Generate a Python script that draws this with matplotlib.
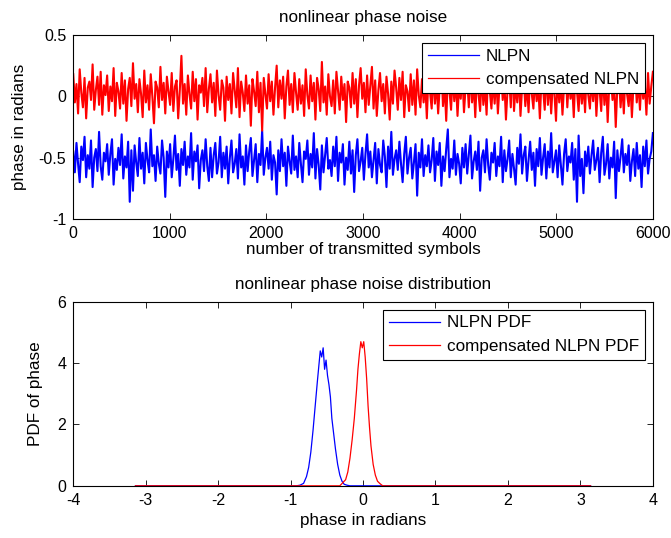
import numpy as np
import matplotlib
matplotlib.use("Agg")
import matplotlib.pyplot as plt

# phase samples (subsampled)
nlpn = [
    -0.45, -0.62, -0.38, -0.55, -0.70, -0.41, -0.52, -0.33, -0.66, -0.48, -0.59, -0.36, -0.74, -0.50, -0.43, -0.61, -0.29, -0.57, -0.68, -0.46,
    -0.53, -0.39, -0.64, -0.47, -0.35, -0.72, -0.51, -0.60, -0.42, -0.56, -0.31, -0.67, -0.49, -0.58, -0.37, -0.86, -0.44, -0.77, -0.40, -0.54,
    -0.65, -0.34, -0.59, -0.46, -0.71, -0.38, -0.52, -0.62, -0.27, -0.57, -0.48, -0.69, -0.41, -0.55, -0.63, -0.36, -0.50, -0.82, -0.45, -0.58,
    -0.39, -0.66, -0.51, -0.32, -0.60, -0.47, -0.73, -0.43, -0.56, -0.37, -0.64, -0.49, -0.58, -0.30, -0.68, -0.45, -0.53, -0.40, -0.75, -0.52,
    -0.44, -0.61, -0.35, -0.57, -0.69, -0.42, -0.66, -0.48, -0.38, -0.63, -0.54, -0.33, -0.66, -0.46, -0.59, -0.41, -0.71, -0.50, -0.36, -0.62,
    -0.55, -0.43, -0.67, -0.31, -0.58, -0.49, -0.72, -0.40, -0.61, -0.45, -0.34, -0.65, -0.52, -0.39, -0.70, -0.47, -0.56, -0.28, -0.64, -0.50,
    -0.42, -0.59, -0.37, -0.68, -0.48, -0.54, -0.80, -0.44, -0.61, -0.35, -0.57, -0.46, -0.73, -0.41, -0.53, -0.63, -0.32, -0.60, -0.49, -0.66,
    -0.38, -0.55, -0.70, -0.45, -0.51, -0.36, -0.64, -0.47, -0.58, -0.30, -0.67, -0.43, -0.56, -0.76, -0.40, -0.62, -0.48, -0.34, -0.59, -0.52,
    -0.65, -0.41, -0.57, -0.33, -0.69, -0.46, -0.54, -0.39, -0.72, -0.50, -0.60, -0.37, -0.63, -0.44, -0.78, -0.48, -0.35, -0.61, -0.53, -0.42,
    -0.68, -0.47, -0.31, -0.58, -0.45, -0.66, -0.52, -0.38, -0.71, -0.43, -0.56, -0.62, -0.36, -0.49, -0.74, -0.41, -0.59, -0.29, -0.64, -0.51,
    -0.44, -0.60, -0.37, -0.55, -0.70, -0.47, -0.33, -0.63, -0.50, -0.42, -0.67, -0.54, -0.39, -0.81, -0.46, -0.58, -0.35, -0.65, -0.48, -0.57,
    -0.40, -0.62, -0.52, -0.34, -0.69, -0.45, -0.56, -0.38, -0.73, -0.49, -0.61, -0.43, -0.27, -0.66, -0.51, -0.59, -0.36, -0.64, -0.47, -0.55,
    -0.71, -0.42, -0.58, -0.39, -0.63, -0.48, -0.32, -0.67, -0.53, -0.45, -0.60, -0.37, -0.77, -0.50, -0.44, -0.62, -0.35, -0.56, -0.68, -0.46,
    -0.54, -0.38, -0.65, -0.49, -0.57, -0.33, -0.70, -0.44, -0.61, -0.51, -0.36, -0.66, -0.47, -0.59, -0.72, -0.42, -0.55, -0.31, -0.63, -0.48,
    -0.41, -0.69, -0.52, -0.37, -0.60, -0.46, -0.73, -0.43, -0.57, -0.34, -0.64, -0.50, -0.39, -0.67, -0.45, -0.58, -0.30, -0.62, -0.53, -0.44,
    -0.66, -0.40, -0.56, -0.72, -0.47, -0.35, -0.61, -0.49, -0.54, -0.38, -0.68, -0.43, -0.86, -0.32, -0.65, -0.51, -0.79, -0.45, -0.57, -0.41,
    -0.63, -0.48, -0.36, -0.60, -0.52, -0.42, -0.70, -0.46, -0.33, -0.64, -0.55, -0.39, -0.67, -0.50, -0.58, -0.37, -0.83, -0.44, -0.61, -0.49,
    -0.35, -0.62, -0.47, -0.56, -0.40, -0.69, -0.53, -0.43, -0.65, -0.38, -0.59, -0.48, -0.74, -0.41, -0.57, -0.36, -0.63, -0.51, -0.45, -0.30,
]
comp_nlpn = [
    0.18, -0.05, 0.10, -0.14, 0.22, 0.03, -0.09, 0.15, -0.18, 0.07, 0.12, -0.03, 0.26, -0.11, 0.05, 0.16, -0.07, 0.20, -0.15, 0.09,
    0.01, 0.17, -0.12, 0.08, -0.04, 0.23, -0.16, 0.11, 0.04, -0.10, 0.19, -0.06, 0.13, -0.20, 0.06, 0.15, -0.08, 0.27, -0.02, 0.10,
    -0.13, 0.14, 0.02, -0.17, 0.21, -0.05, 0.09, -0.11, 0.18, 0.00, -0.22, 0.12, 0.07, -0.09, 0.24, -0.03, 0.11, -0.14, 0.16, 0.04,
    -0.07, 0.19, -0.12, 0.08, 0.13, -0.18, 0.05, 0.33, -0.06, 0.10, -0.15, 0.17, 0.02, -0.10, 0.20, -0.04, 0.14, -0.19, 0.09, 0.03,
    0.15, -0.08, 0.23, -0.13, 0.06, 0.18, -0.05, 0.11, -0.16, 0.21, 0.01, -0.11, 0.13, 0.07, -0.20, 0.16, -0.03, 0.10, -0.14, 0.19,
    0.05, -0.09, 0.23, -0.17, 0.12, 0.03, -0.12, 0.17, -0.06, 0.09, -0.24, 0.14, 0.04, -0.08, 0.20, -0.13, 0.11, -0.28, 0.15, 0.02,
    -0.10, 0.18, -0.04, 0.12, -0.15, 0.07, 0.25, -0.09, 0.13, -0.02, 0.16, -0.18, 0.08, 0.21, -0.07, 0.10, -0.13, 0.19, 0.03, -0.11,
    0.14, -0.06, 0.09, -0.16, 0.22, 0.01, -0.10, 0.17, -0.04, 0.11, -0.19, 0.15, 0.06, -0.12, 0.28, -0.05, 0.08, -0.15, 0.18, 0.00,
    -0.08, 0.13, -0.14, 0.20, 0.04, -0.11, 0.16, -0.03, 0.10, -0.21, 0.12, 0.07, -0.09, 0.19, -0.06, 0.14, -0.17, 0.09, 0.23, -0.02,
    0.11, -0.13, 0.17, -0.07, 0.08, 0.24, -0.10, 0.13, -0.16, 0.05, 0.19, -0.04, 0.10, -0.14, 0.16, 0.02, -0.19, 0.12, -0.06, 0.21,
    0.07, -0.11, 0.15, -0.03, 0.20, -0.17, 0.09, 0.04, -0.12, 0.18, -0.07, 0.13, -0.15, 0.22, 0.01, -0.09, 0.14, -0.05, 0.11, -0.18,
    0.16, 0.03, -0.10, 0.19, -0.06, 0.12, -0.14, 0.08, 0.25, -0.08, 0.10, -0.20, 0.15, 0.05, -0.11, 0.17, -0.04, 0.13, -0.16, 0.09,
    -0.02, 0.18, -0.13, 0.07, 0.14, -0.09, 0.21, -0.05, 0.11, -0.17, 0.16, 0.02, -0.12, 0.19, -0.07, 0.09, -0.15, 0.23, 0.04, -0.10,
    0.13, -0.06, 0.17, -0.14, 0.08, 0.20, -0.03, 0.12, -0.19, 0.06, 0.15, -0.09, 0.29, -0.12, 0.10, -0.05, 0.18, -0.16, 0.07, 0.14,
    -0.08, 0.11, -0.13, 0.19, 0.02, -0.10, 0.16, -0.04, 0.09, -0.18, 0.13, 0.06, -0.11, 0.21, -0.07, 0.15, -0.14, 0.10, 0.03, -0.20,
    0.17, -0.05, 0.12, -0.15, 0.08, 0.22, -0.09, 0.14, -0.02, 0.10, -0.17, 0.18, 0.04, -0.12, 0.15, -0.06, 0.11, -0.13, 0.20, 0.01,
    -0.10, 0.14, -0.04, 0.17, -0.16, 0.09, 0.05, -0.12, 0.19, -0.07, 0.13, -0.21, 0.10, 0.16, -0.03, 0.12, -0.25, 0.08, 0.15, -0.09,
    0.11, -0.14, 0.18, 0.02, -0.08, 0.13, -0.17, 0.09, 0.21, -0.05, 0.12, -0.11, 0.16, -0.02, 0.10, -0.15, 0.19, -0.06, 0.08, 0.20,
]
n_symbols = 6000

# PDF estimates
blue_x = [-3.14, -0.92, -0.87, -0.82, -0.78, -0.75, -0.72, -0.69, -0.66, -0.63,
          -0.61, -0.59, -0.57, -0.55, -0.53, -0.51, -0.49, -0.47, -0.45, -0.43,
          -0.41, -0.38, -0.35, -0.32, -0.29, -0.26, -0.22, -0.18, 3.14]
blue_pdf = [0, 0, 0.02, 0.08, 0.3, 0.6, 1.1, 1.8, 2.6, 3.4,
            3.9, 4.4, 4.2, 4.5, 3.8, 4.1, 3.6, 3.3, 2.9, 2.2,
            1.8, 1.2, 0.7, 0.35, 0.15, 0.05, 0.02, 0, 0]
red_x = [-3.14, -0.32, -0.28, -0.24, -0.21, -0.18, -0.15, -0.12, -0.09, -0.07,
         -0.05, -0.03, -0.01, 0.01, 0.03, 0.05, 0.07, 0.09, 0.11, 0.14,
         0.17, 0.20, 0.23, 0.26, 0.28, 3.14]
red_pdf = [0, 0, 0.1, 0.2, 0.45, 0.9, 1.5, 2.2, 3.1, 3.8,
           4.3, 4.7, 4.5, 4.7, 4.2, 3.5, 2.6, 1.9, 1.3, 0.7,
           0.35, 0.15, 0.08, 0.02, 0, 0]

plt.rcParams["font.family"] = ["Liberation Sans", "DejaVu Sans"]
plt.rcParams["font.size"] = 12.3
plt.rcParams["axes.unicode_minus"] = False
plt.rcParams["xtick.labelsize"] = 11.5
plt.rcParams["ytick.labelsize"] = 11.5

fig = plt.figure(figsize=(6.71, 5.38), dpi=100)
ax1 = fig.add_axes([0.109, 0.593, 0.864, 0.342])
ax2 = fig.add_axes([0.109, 0.097, 0.864, 0.342])

x = np.linspace(1, n_symbols, len(nlpn))
ax1.plot(x, nlpn, color="blue", lw=1.5, label="NLPN")
ax1.plot(x, comp_nlpn, color="red", lw=1.5, label="compensated NLPN")
ax1.set_xlim(0, 6000)
ax1.set_ylim(-1, 0.5)
ax1.set_yticks([-1, -0.5, 0, 0.5])
ax1.set_yticklabels(["-1", "-0.5", "0", "0.5"])
ax1.set_title("nonlinear phase noise", fontsize=12.3, pad=9)
ax1.set_xlabel("number of transmitted symbols", labelpad=1)
ax1.set_ylabel("phase in radians", labelpad=8)

ax2.plot(blue_x, blue_pdf, color="blue", lw=0.9, label="NLPN PDF")
ax2.plot(red_x, red_pdf, color="red", lw=0.9, label="compensated NLPN PDF")
ax2.set_xlim(-4, 4)
ax2.set_ylim(0, 6)
ax2.set_yticks([0, 2, 4, 6])
ax2.set_title("nonlinear phase noise distribution", fontsize=12.3, pad=9)
ax2.set_xlabel("phase in radians", labelpad=4)
ax2.set_ylabel("PDF of phase", labelpad=10)

for ax in (ax1, ax2):
    ax.tick_params(direction="in", top=True, right=True, length=4, width=0.6, pad=5)
    for s in ax.spines.values():
        s.set_linewidth(0.8)
    leg = ax.legend(loc="upper right", fancybox=False, framealpha=1,
                    edgecolor="black", handlelength=3.0, handletextpad=0.4,
                    borderpad=0.35, labelspacing=0.5, borderaxespad=0.45)
    leg.get_frame().set_linewidth(0.8)
    for h in leg.get_lines():
        h.set_linewidth(0.9)

fig.savefig("out.png", dpi=100)
